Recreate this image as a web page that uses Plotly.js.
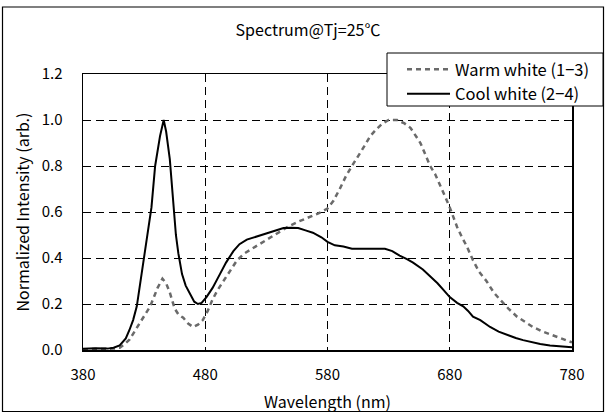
<!DOCTYPE html>
<html>
<head>
<meta charset="utf-8">
<script src="https://cdn.plot.ly/plotly-3.0.1.min.js"></script>
<style>html,body{margin:0;padding:0;background:#fff}#chart{width:605px;height:413px}</style>
</head>
<body>
<div id="chart"></div>
<script>
const chartTitle = "Spectrum@Tj=25\u2103";
const xTitle = "Wavelength (nm)";
const yTitle = "Normalized Intensity (arb.)";
const xTicks = [380, 480, 580, 680, 780];
const yTicks = [0.0, 0.2, 0.4, 0.6, 0.8, 1.0, 1.2];
const warmName = "Warm white (1\u22123)";
const coolName = "Cool white (2\u22124)";

const coolWl = [380,390,400,405,410,415,418,421,424,428,433,436,439,443,446,448,451,454,456,458,461,464,468,471,474,477,481,486,492,497,503,508,514,520,525,531,537,544,550,556,562,568,575,580,586,593,600,610,620,627,633,639,645,650,658,664,670,675,680,686,691,695,699,705,713,720,727,734,740,747,754,762,770,775,780];
const coolI = [0.005,0.008,0.006,0.01,0.02,0.05,0.087,0.13,0.19,0.33,0.50,0.62,0.80,0.93,1.0,0.95,0.83,0.65,0.50,0.42,0.33,0.28,0.24,0.21,0.20,0.205,0.23,0.27,0.33,0.38,0.43,0.46,0.48,0.49,0.50,0.51,0.52,0.53,0.532,0.53,0.52,0.51,0.49,0.47,0.455,0.45,0.44,0.44,0.44,0.44,0.43,0.41,0.395,0.38,0.35,0.32,0.29,0.26,0.23,0.205,0.19,0.17,0.145,0.13,0.10,0.08,0.065,0.052,0.043,0.033,0.026,0.02,0.017,0.013,0.012];

const warmWl = [380,390,400,405,410,414,418,422,426.5,431,435,438,441,445,448,451,455,458,462,466,470,474,478,482,486,490,495,500,506,512,518,525,533,541,549,557,566,573,580,585,590,595,600,605,610,615,620,625,630,637,643,648,652,656,660,664,668,672,676,680,686,690,694,699,704,710,716,721,728,735,742,748,756,764,771,778,780];
const warmI = [0.003,0.005,0.004,0.006,0.01,0.025,0.045,0.08,0.12,0.16,0.19,0.23,0.27,0.31,0.29,0.25,0.18,0.155,0.14,0.115,0.10,0.11,0.13,0.17,0.22,0.26,0.30,0.34,0.39,0.42,0.44,0.46,0.49,0.515,0.54,0.56,0.58,0.595,0.615,0.65,0.70,0.755,0.80,0.84,0.885,0.93,0.96,0.985,1.0,1.0,0.985,0.965,0.93,0.90,0.85,0.80,0.765,0.72,0.67,0.62,0.535,0.49,0.45,0.39,0.34,0.30,0.25,0.22,0.18,0.145,0.12,0.10,0.08,0.065,0.05,0.037,0.033];

const FONT = "'Noto Sans CJK JP', 'Noto Sans', sans-serif";

const traces = [
  {x: warmWl, y: warmI, name: warmName, type: 'scatter', mode: 'lines',
   line: {color: '#6a6a6a', width: 2.5, dash: '5px,4px'}},
  {x: coolWl, y: coolI, name: coolName, type: 'scatter', mode: 'lines',
   line: {color: '#000000', width: 2}}
];

const L = 83, R = 572, T = 74, B = 350;
const W = 605, H = 413;
const pw = R - L, ph = B - T;
const px = v => (v - L) / pw;
const py = v => (B - v) / ph;

const layout = {
  width: W, height: H,
  margin: {l: L, r: W - R, t: T, b: H - B, pad: 0, autoexpand: false},
  paper_bgcolor: '#ffffff', plot_bgcolor: '#ffffff',
  font: {family: FONT, size: 16, color: '#000'},
  title: {text: chartTitle, x: 308 / W, xanchor: 'center', y: 1 - 30 / H, yanchor: 'middle',
          font: {family: FONT, size: 16, color: '#000'}},
  showlegend: true,
  legend: {x: px(402), y: py(52), xanchor: 'left', yanchor: 'top',
           bgcolor: 'rgba(0,0,0,0)', borderwidth: 0,
           font: {family: FONT, size: 16.5, color: '#000'}, itemwidth: 43, tracegroupgap: 0},
  xaxis: {range: [380, 780], tickvals: xTicks, ticktext: xTicks.map(String), ticks: '',
          showline: true, linecolor: '#000', linewidth: 1.5, mirror: true,
          showgrid: true, gridcolor: '#000', gridwidth: 1, griddash: '8px,5px',
          zeroline: false, ticklabelstandoff: 10,
          tickfont: {family: FONT, size: 15, color: '#000'},
          title: {text: xTitle, font: {family: FONT, size: 16, color: '#000'}, standoff: 14}},
  yaxis: {range: [0, 1.2], tickvals: yTicks, ticktext: yTicks.map(v => v.toFixed(1)), ticks: '',
          showline: true, linecolor: '#000', linewidth: 1.5, mirror: true,
          showgrid: true, gridcolor: '#000', gridwidth: 1, griddash: '8px,5px',
          zeroline: false, ticklabelstandoff: 16,
          tickfont: {family: FONT, size: 15, color: '#000'},
          title: {text: yTitle, font: {family: FONT, size: 16, color: '#000'}, standoff: 8}},
  shapes: [
    {type: 'rect', xref: 'paper', yref: 'paper', layer: 'below',
     x0: px(2.5), x1: px(603.5), y0: py(411.5), y1: py(7),
     line: {color: '#000', width: 1.2}, fillcolor: 'rgba(0,0,0,0)'},
    {type: 'rect', xref: 'paper', yref: 'paper', layer: 'above',
     x0: px(387), x1: px(603), y0: py(106), y1: py(53),
     line: {color: '#000', width: 1}, fillcolor: '#ffffff'}
  ]
};

Plotly.newPlot('chart', traces, layout, {displayModeBar: false, staticPlot: true});
</script>
</body>
</html>
